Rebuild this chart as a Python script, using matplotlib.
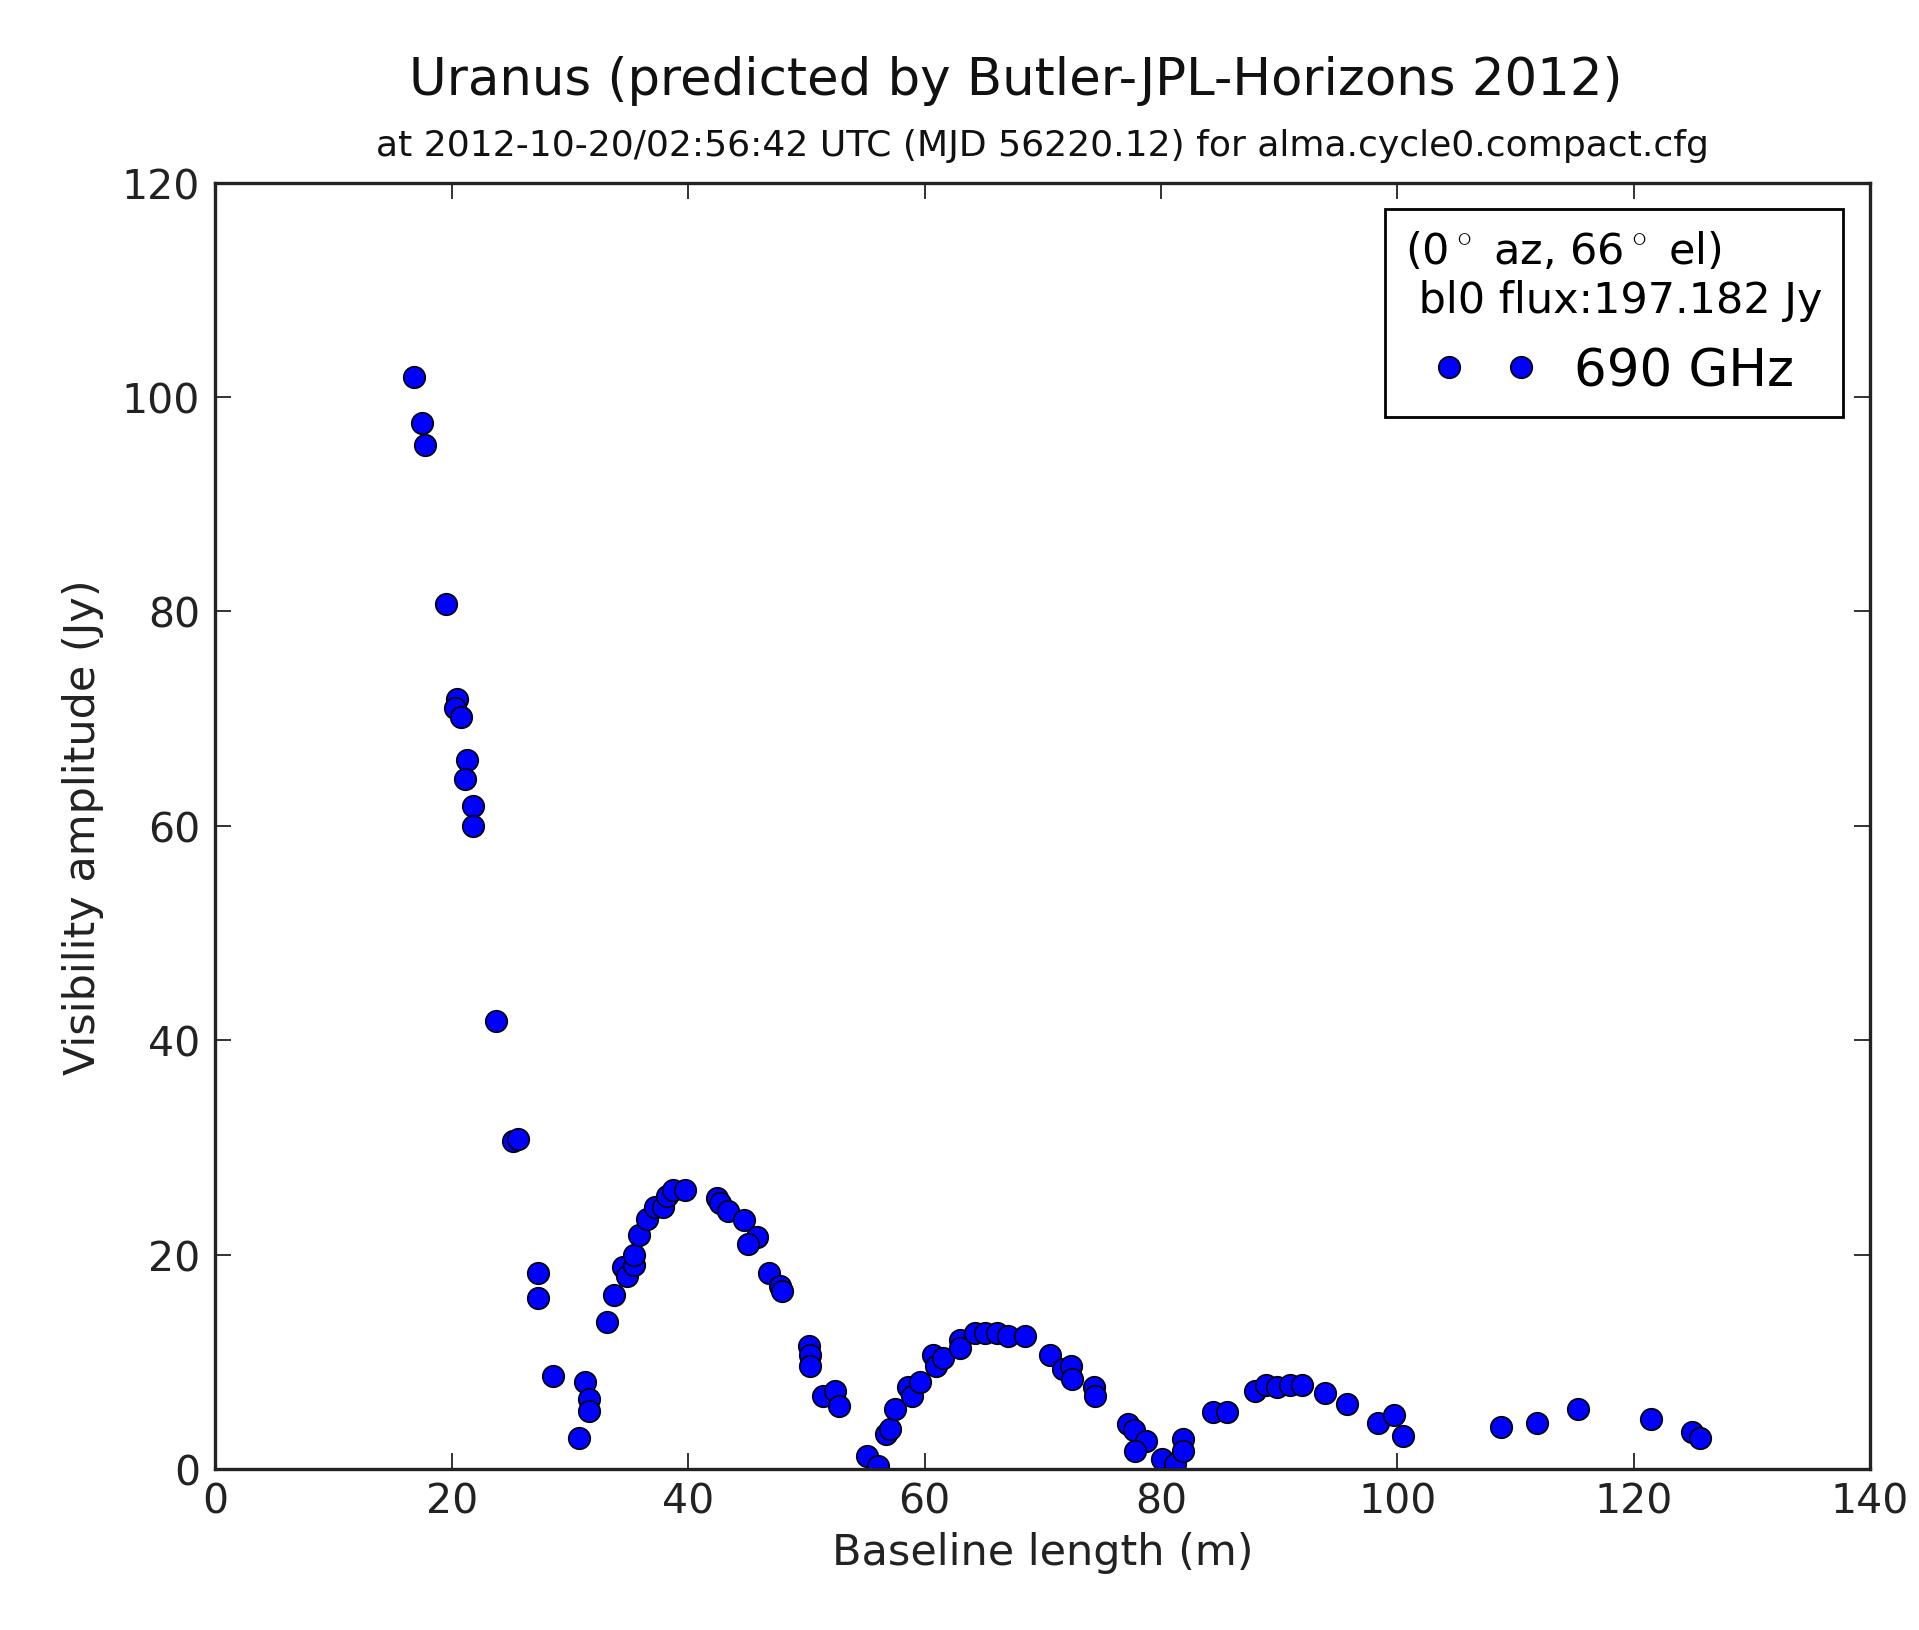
import matplotlib
matplotlib.use("Agg")
import matplotlib.pyplot as plt

plt.rcParams['font.family'] = ['DejaVu Sans']
plt.rcParams['mathtext.fontset'] = 'cm'

# Baseline length (m)
baseline = [16.8, 17.5, 17.7, 19.5, 20.4, 20.3, 20.8, 21.3, 21.1, 21.8, 21.8,
            23.7, 25.2, 25.6, 27.3, 27.3, 28.6, 30.8, 31.3, 31.6, 31.6,
            33.1, 33.7, 34.5, 34.8, 35.4, 35.4, 35.8, 36.5, 37.2, 37.9, 38.2,
            38.7, 39.7, 42.4, 42.7, 43.4, 44.7, 45.8, 45.1, 46.8, 47.8, 47.9,
            50.2, 50.3, 50.3, 51.4, 52.4, 52.8, 55.1, 56.1, 56.7, 57.1, 57.5,
            58.6, 58.9, 59.6, 60.7, 61.0, 61.6, 63.0, 63.0, 64.3, 65.1, 66.1,
            67.1, 68.5, 70.6, 71.7, 72.4, 72.5, 74.3, 74.4, 77.2, 77.7, 78.7,
            77.8, 80.1, 81.2, 81.9, 81.9, 84.4, 85.6, 88.0, 88.9, 89.8, 90.9,
            91.9, 93.9, 95.7, 98.4, 99.7, 100.5, 108.8, 111.8, 115.3, 121.5,
            124.9, 125.6]
# Visibility amplitude (Jy)
amplitude = [101.9, 97.6, 95.5, 80.7, 71.8, 71.0, 70.1, 66.1, 64.4, 61.8, 60.0,
             41.8, 30.6, 30.8, 18.3, 15.9, 8.7, 2.9, 8.1, 6.5, 5.4,
             13.7, 16.2, 18.8, 18.0, 19.0, 20.0, 21.8, 23.3, 24.4, 24.4, 25.5,
             26.0, 26.0, 25.3, 24.8, 24.1, 23.2, 21.6, 21.0, 18.3, 17.1, 16.6,
             11.5, 10.6, 9.6, 6.8, 7.3, 5.9, 1.2, 0.3, 3.3, 3.7, 5.6,
             7.6, 6.8, 8.1, 10.6, 9.6, 10.3, 12.0, 11.3, 12.7, 12.7, 12.7,
             12.4, 12.4, 10.6, 9.3, 9.6, 8.4, 7.6, 6.8, 4.2, 3.6, 2.6,
             1.7, 0.9, 0.5, 2.8, 1.7, 5.3, 5.3, 7.3, 7.8, 7.6, 7.8,
             7.8, 7.1, 6.1, 4.3, 5.0, 3.1, 3.9, 4.3, 5.6, 4.7,
             3.4, 2.9]

series_label = "690 GHz"
legend_title = "(0$^\\circ$ az, 66$^\\circ$ el)\n bl0 flux:197.182 Jy"
title = "Uranus (predicted by Butler-JPL-Horizons 2012)"
subtitle = "at 2012-10-20/02:56:42 UTC (MJD 56220.12) for alma.cycle0.compact.cfg"
xticks = [0, 20, 40, 60, 80, 100, 120, 140]
yticks = [0, 20, 40, 60, 80, 100, 120]

W, H = 1919, 1631
fig = plt.figure(figsize=(W / 100, H / 100), dpi=100)
ax = fig.add_axes([215.4 / W, 1 - 1469.9 / H, (1870.1 - 215.4) / W, (1469.9 - 183.6) / H])

ax.plot(baseline, amplitude, 'o', color='blue', mec='black', ms=15.5, mew=1.2,
        label=series_label)

ax.set_xlim(0, 140)
ax.set_ylim(0, 120)
ax.set_xticks(xticks)
ax.set_yticks(yticks)
ax.tick_params(which='both', direction='in', top=True, right=True,
               length=11.5, width=1.3, labelsize=29.5, colors='#222222')
ax.tick_params(axis='x', pad=9)
ax.tick_params(axis='y', pad=11)
for s in ax.spines.values():
    s.set_linewidth(2.4)
    s.set_color('#222222')

ax.set_xlabel("Baseline length (m)", fontsize=31, labelpad=7, color='#222222')
ax.set_ylabel("Visibility amplitude (Jy)", fontsize=31, labelpad=13, color='#222222')

fig.text(1016 / W, 1 - 95.5 / H, title, fontsize=37, ha='center', va='baseline',
         color='#111111')
ax.text(0.5, 1 + 28 / 1286.3, subtitle, transform=ax.transAxes, fontsize=26,
        ha='center', va='baseline', color='#111111')

leg = ax.legend(loc='upper right', bbox_to_anchor=(0.9837, 0.9791),
                borderaxespad=0, numpoints=2, fontsize=37, title=legend_title,
                title_fontsize=31, fancybox=False, framealpha=1,
                edgecolor='black', handlelength=2.0, handletextpad=0.75,
                borderpad=0.4)
leg.get_frame().set_linewidth(2.0)

fig.savefig("out.png", dpi=100)
